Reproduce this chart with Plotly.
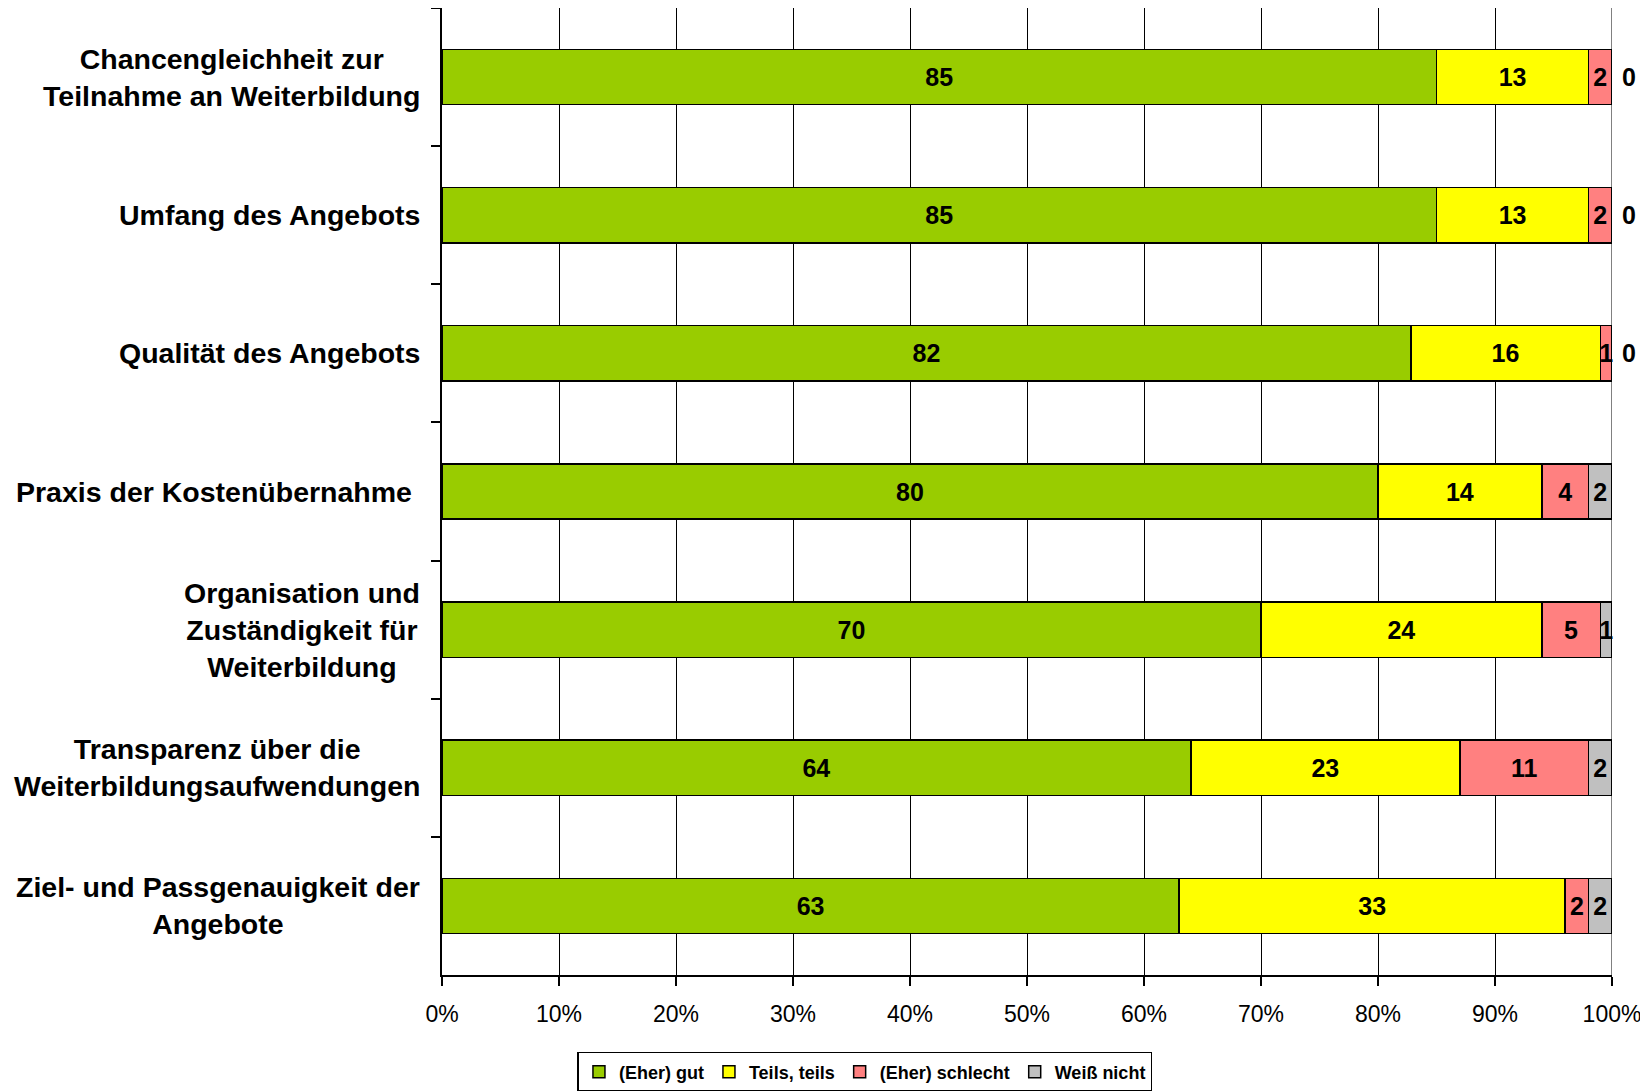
"""Stacked horizontal bar chart: Bewertung der Weiterbildung."""

import plotly.graph_objects as go

CATEGORIES = [
    "Chancengleichheit zur<br>Teilnahme an Weiterbildung",
    "Umfang des Angebots",
    "Qualität des Angebots",
    "Praxis der Kostenübernahme\u00a0",
    "Organisation und<br>Zuständigkeit für<br>Weiterbildung",
    "Transparenz über die<br>Weiterbildungsaufwendungen",
    "Ziel- und Passgenauigkeit der<br>Angebote",
]

GUT = [85, 85, 82.8, 80, 70, 64, 63]
TEILS = [13, 13, 16.2, 14, 24, 23, 33]
SCHLECHT = [2, 2, 1, 4, 5, 11, 2]
WEISS_NICHT = [0, 0, 0, 2, 1, 2, 2]

SERIES = [
    ("(Eher) gut", GUT, "#99CC00"),
    ("Teils, teils", TEILS, "#FFFF00"),
    ("(Eher) schlecht", SCHLECHT, "#FF8080"),
    ("Weiß nicht", WEISS_NICHT, "#C0C0C0"),
]

X_TICKS = list(range(0, 101, 10))
X_TICK_TEXT = [f"{v}%" for v in X_TICKS]

FONT = "Liberation Sans, Arial, sans-serif"

fig = go.Figure()
for name, vals, color in SERIES:
    # zero shares are written just right of the bar end, like the original
    fig.add_trace(go.Bar(
        name=name, y=CATEGORIES, x=vals, orientation="h",
        marker=dict(color=color, line=dict(color="black", width=1.5)),
        text=["\u00a00" if v == 0 else str(int(v)) for v in vals],
        textposition=["outside" if v == 0 else "inside" for v in vals],
        insidetextanchor="middle",
        constraintext="none",
        cliponaxis=False,
        textfont=dict(family=FONT, size=25, color="black", weight="bold"),
        width=0.4,
    ))

for cat in CATEGORIES:
    fig.add_annotation(
        x=0, xref="paper", y=cat, yref="y", text=cat,
        xanchor="right", align="center", xshift=-20, showarrow=False,
        font=dict(family=FONT, size=28.5, color="black", weight="bold"),
    )

# grey frame line at 100 %
fig.add_shape(type="line", xref="x", yref="paper", x0=100, x1=100, y0=0, y1=1,
              line=dict(color="#808080", width=2), layer="below")

fig.update_layout(
    width=1648, height=1091,
    barmode="stack", bargap=0.6,
    plot_bgcolor="white", paper_bgcolor="white",
    margin=dict(l=434, r=44, t=0, b=124),
    font=dict(family=FONT, color="black"),
    showlegend=True,
    legend=dict(
        orientation="h", x=0.3615, xanchor="center", y=-0.0796, yanchor="top",
        bordercolor="black", borderwidth=1.5, bgcolor="white",
        font=dict(family=FONT, size=18, color="black", weight="bold"),
        itemwidth=30, traceorder="normal",
    ),
)

fig.update_xaxes(
    range=[0, 100], tickvals=X_TICKS, ticktext=X_TICK_TEXT,
    showgrid=True, gridcolor="black", gridwidth=1.2,
    showline=True, linecolor="black", linewidth=1.5,
    ticks="outside", ticklen=9, tickwidth=1.5, tickcolor="black",
    tickfont=dict(family=FONT, size=23, color="black"),
    ticklabelstandoff=9, zeroline=False,
)
fig.update_yaxes(
    type="category", autorange="reversed", showticklabels=False,
    showline=True, linecolor="black", linewidth=1.5,
    ticks="outside", tickson="boundaries", ticklen=9, tickwidth=1.5, tickcolor="black",
    showgrid=False,
)

fig.write_html("out.html")
